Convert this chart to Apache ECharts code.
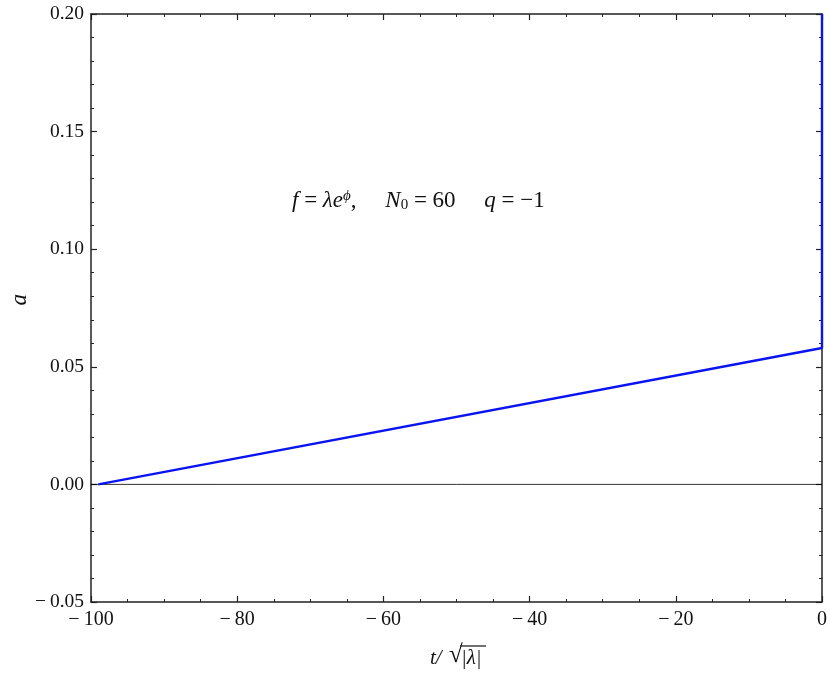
<!DOCTYPE html>
<html><head><meta charset="utf-8">
<script src="https://cdn.jsdelivr.net/npm/echarts@6/dist/echarts.min.js"></script>
<style>html,body{margin:0;padding:0;background:#fff}#c{width:830px;height:675px}</style>
</head><body><div id="c"></div>
<script>
// Data
var tValues = [-99.0, 0, 0];
var aValues = [0, 0.058, 0.2];
var zeroLineT = [-100, 0];
var zeroLineA = [0, 0];
var xTicks = [-100, -80, -60, -40, -20, 0];
var yTicks = [-0.05, 0, 0.05, 0.10, 0.15, 0.20];

var FONT = 'Liberation Serif';
function minus(s){ return String(s).replace('-', '\u2212\u2009'); }

var chart = echarts.init(document.getElementById('c'));
var axisCommon = {
  axisLine: {show: true, onZero: false, lineStyle: {color: '#222', width: 1.5}},
  axisTick: {show: true, inside: true, length: 6, lineStyle: {color: '#222', width: 1.2}},
  splitLine: {show: false}
};
function xAx(pos, showLabel){
  return Object.assign({}, JSON.parse(JSON.stringify(axisCommon)), {
    type: 'value', position: pos, min: xTicks[0], max: xTicks[xTicks.length-1], interval: 20,
    minorTick: {show: true, splitNumber: 4, length: 3, lineStyle: {color: '#222', width: 1}},
    axisLabel: {show: showLabel, color: '#111', fontFamily: FONT, fontSize: 20, margin: 8,
      formatter: function(v){ return minus(v); }}
  });
}
function yAx(pos, showLabel){
  return Object.assign({}, JSON.parse(JSON.stringify(axisCommon)), {
    type: 'value', position: pos, min: yTicks[0], max: yTicks[yTicks.length-1], interval: 0.05,
    minorTick: {show: true, splitNumber: 5, length: 3, lineStyle: {color: '#222', width: 1}},
    axisLabel: {show: showLabel, color: '#111', fontFamily: FONT, fontSize: 19.5, margin: 7,
      formatter: function(v){ return minus(v.toFixed(2)); }}
  });
}

var option = {
  animation: false,
  backgroundColor: '#fff',
  grid: {left: 91, right: 5, top: 14, bottom: 73, containLabel: false},
  xAxis: [xAx('bottom', true), xAx('top', false)],
  yAxis: [yAx('left', true), yAx('right', false)],
  series: [
    {type: 'line', xAxisIndex: 0, yAxisIndex: 0, symbol: 'none', silent: true,
     data: zeroLineT.map(function(t,i){return [t, zeroLineA[i]];}),
     lineStyle: {color: '#000', width: 0.8}, z: 2},
    {type: 'line', xAxisIndex: 0, yAxisIndex: 0, symbol: 'none', clip: true,
     data: tValues.map(function(t,i){return [t, aValues[i]];}),
     lineStyle: {color: '#0a14f0', width: 2.4}, z: 3}
  ],
  graphic: [
    {type: 'text', left: 292, top: 189, style: {
      text: '{i|f} = {i|λe}{sup|ϕ},     {i|N}{sub|0} = 60     {i|q} = \u22121',
      font: '23px ' + FONT, fill: '#111',
      rich: {
        i: {fontFamily: FONT, fontStyle: 'italic', fontSize: 23, fill: '#111'},
        sup: {fontFamily: FONT, fontStyle: 'italic', fontSize: 15, verticalAlign: 'top', padding: [0,0,9,0], fill: '#111'},
        sub: {fontFamily: FONT, fontSize: 15, verticalAlign: 'bottom', padding: [9,0,0,0], fill: '#111'}
      }
    }},
    {type: 'text', left: 8, top: 294, rotation: Math.PI/2, style: {
      text: 'a', font: 'italic 23px ' + FONT, fill: '#111'
    }},
    {type: 'text', left: 430, top: 648, style: {
      text: 't/', font: 'italic 21px ' + FONT, fill: '#111'
    }},
    {type: 'text', left: 449, top: 643, style: {
      text: '√', font: '25px ' + FONT, fill: '#111'
    }},
    {type: 'text', left: 461, top: 648, style: {
      text: '|λ|', font: 'italic 21px ' + FONT, fill: '#111'
    }},
    {type: 'line', shape: {x1: 460, y1: 646, x2: 486, y2: 646}, style: {stroke: '#111', lineWidth: 1.2}}
  ]
};
chart.setOption(option);
</script>
</body></html>
